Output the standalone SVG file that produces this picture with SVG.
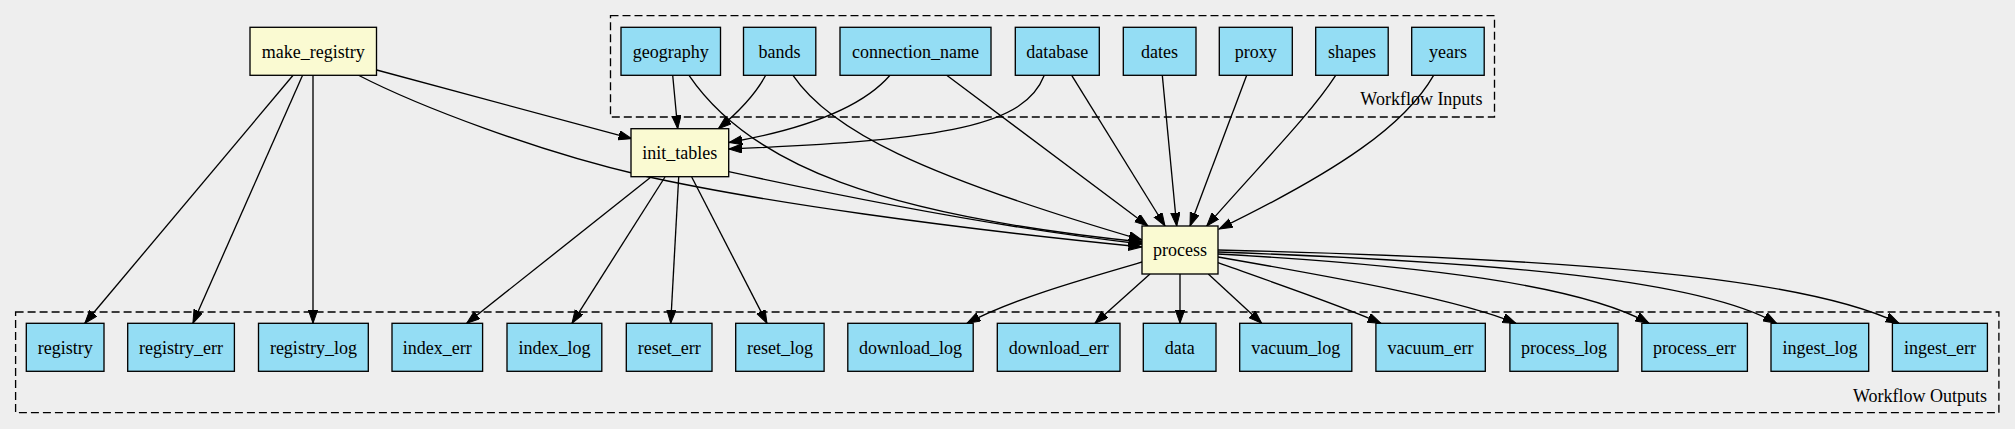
<svg xmlns="http://www.w3.org/2000/svg" width="2015" height="429" viewBox="0 0 2015 429">
<defs>
<marker id="arr" markerWidth="14" markerHeight="10" refX="13.3" refY="4.67" orient="auto" markerUnits="userSpaceOnUse">
<path d="M0,0 L13.3,4.67 L0,9.33 Z" fill="#000" stroke="#000" stroke-width="1"/>
</marker>
<style>
.bg{fill:#eeeeee}
.cl{fill:none;stroke:#000;stroke-width:1.33;stroke-dasharray:8,4}
.io rect{fill:#94ddf4;stroke:#000;stroke-width:1.33}
.st rect{fill:#fafad2;stroke:#000;stroke-width:1.33}
text{font-family:'Liberation Serif','Tinos','Times New Roman',Times,'DejaVu Serif',serif;font-size:18px;fill:#000}
.n text{text-anchor:middle}
.lab{text-anchor:end}
#edges path{fill:none;stroke:#000;stroke-width:1.33;marker-end:url(#arr)}
</style>
</defs>
<rect class="bg" x="0" y="0" width="2015" height="429"/>
<g id="cluster_inputs">
<rect class="cl" x="610.5" y="15.7" width="884" height="101.3"/>
<text class="lab" x="1482.4" y="105">Workflow Inputs</text>
</g>
<g id="cluster_outputs">
<rect class="cl" x="15.6" y="312" width="1983.3" height="100.7"/>
<text class="lab" x="1987" y="401.5">Workflow Outputs</text>
</g>
<g id="edges">
<path d="M376.7,70 L631.7,138.7"/>
<path d="M358,75 C420,107 540,152 640,175 C760,202 950,228 1142,247"/>
<path d="M293.3,75 L84.8,323.3"/>
<path d="M302.7,75 L192.9,323.3"/>
<path d="M313,75 L313,323.3"/>
<path d="M651,177 L466.7,323.3"/>
<path d="M665,177 L572,323.3"/>
<path d="M678.7,177 L670.7,323.3"/>
<path d="M691.7,177 L767,323.3"/>
<path d="M728.7,171.7 C850,198 1000,228 1142,244"/>
<path d="M672.7,75.3 L677.7,128.7"/>
<path d="M689,75.3 C750,165 880,215 1142,242"/>
<path d="M765.7,75.3 C755,95 735,115 718.3,128.7"/>
<path d="M793,75.3 C830,130 920,175 1142,240"/>
<path d="M890,75.3 C860,110 800,130 729,142.5"/>
<path d="M946.7,75.3 L1148,226"/>
<path d="M1044.3,75.3 C1025,125 950,140 729,149"/>
<path d="M1071.7,75.3 L1165,226"/>
<path d="M1162.3,75.3 L1176.7,226"/>
<path d="M1246.7,75.3 L1190,226"/>
<path d="M1335.7,75.3 C1310,115 1260,165 1206.7,226"/>
<path d="M1433.6,75.3 C1405,125 1340,170 1219,229"/>
<path d="M1142,262 C1080,280 1010,300 967,323.3"/>
<path d="M1150,274 L1095,323.3"/>
<path d="M1180,274 L1180,323.3"/>
<path d="M1208.3,274 L1261.7,323.3"/>
<path d="M1218,262.7 C1280,285 1340,305 1381,323.3"/>
<path d="M1218,257 C1350,280 1460,300 1516,323.3"/>
<path d="M1218,254 C1420,265 1580,285 1649,323.3"/>
<path d="M1218,252 C1500,262 1700,280 1776.5,323.3"/>
<path d="M1218,250 C1550,258 1800,275 1899,323.3"/>
</g>
<g id="make_registry" class="n st"><rect x="250" y="27.3" width="126.5" height="48"/><text x="313.2" y="57.5">make_registry</text></g>
<g id="init_tables" class="n st"><rect x="631" y="128.7" width="97.7" height="48"/><text x="679.8" y="159">init_tables</text></g>
<g id="process" class="n st"><rect x="1142" y="226" width="76" height="48"/><text x="1180" y="256.2">process</text></g>
<g id="geography" class="n io"><rect x="621" y="27.3" width="99.5" height="48"/><text x="670.7" y="57.5">geography</text></g>
<g id="bands" class="n io"><rect x="743.5" y="27.3" width="72.3" height="48"/><text x="779.6" y="57.5">bands</text></g>
<g id="connection_name" class="n io"><rect x="840" y="27.3" width="151" height="48"/><text x="915.5" y="57.5">connection_name</text></g>
<g id="database" class="n io"><rect x="1015.3" y="27.3" width="84" height="48"/><text x="1057.3" y="57.5">database</text></g>
<g id="dates" class="n io"><rect x="1123.3" y="27.3" width="72.7" height="48"/><text x="1159.6" y="57.5">dates</text></g>
<g id="proxy" class="n io"><rect x="1219.3" y="27.3" width="73" height="48"/><text x="1255.8" y="57.5">proxy</text></g>
<g id="shapes" class="n io"><rect x="1315.7" y="27.3" width="72.5" height="48"/><text x="1352" y="57.5">shapes</text></g>
<g id="years" class="n io"><rect x="1411.7" y="27.3" width="72.5" height="48"/><text x="1448" y="57.5">years</text></g>
<g id="registry" class="n io"><rect x="26.3" y="323.3" width="77.7" height="48"/><text x="65.2" y="353.5">registry</text></g>
<g id="registry_err" class="n io"><rect x="127.7" y="323.3" width="106.7" height="48"/><text x="181" y="353.5">registry_err</text></g>
<g id="registry_log" class="n io"><rect x="258.5" y="323.3" width="109.8" height="48"/><text x="313.4" y="353.5">registry_log</text></g>
<g id="index_err" class="n io"><rect x="392" y="323.3" width="90.6" height="48"/><text x="437.3" y="353.5">index_err</text></g>
<g id="index_log" class="n io"><rect x="507" y="323.3" width="94.8" height="48"/><text x="554.4" y="353.5">index_log</text></g>
<g id="reset_err" class="n io"><rect x="626.3" y="323.3" width="85.7" height="48"/><text x="669.2" y="353.5">reset_err</text></g>
<g id="reset_log" class="n io"><rect x="735.7" y="323.3" width="88.4" height="48"/><text x="779.9" y="353.5">reset_log</text></g>
<g id="download_log" class="n io"><rect x="847.8" y="323.3" width="125.4" height="48"/><text x="910.5" y="353.5">download_log</text></g>
<g id="download_err" class="n io"><rect x="997.3" y="323.3" width="122.7" height="48"/><text x="1058.7" y="353.5">download_err</text></g>
<g id="data" class="n io"><rect x="1143.3" y="323.3" width="72.7" height="48"/><text x="1179.7" y="353.5">data</text></g>
<g id="vacuum_log" class="n io"><rect x="1239.7" y="323.3" width="112.1" height="48"/><text x="1295.8" y="353.5">vacuum_log</text></g>
<g id="vacuum_err" class="n io"><rect x="1375.9" y="323.3" width="109.4" height="48"/><text x="1430.6" y="353.5">vacuum_err</text></g>
<g id="process_log" class="n io"><rect x="1509.9" y="323.3" width="108.1" height="48"/><text x="1564" y="353.5">process_log</text></g>
<g id="process_err" class="n io"><rect x="1641.8" y="323.3" width="105.6" height="48"/><text x="1694.6" y="353.5">process_err</text></g>
<g id="ingest_log" class="n io"><rect x="1771" y="323.3" width="97.7" height="48"/><text x="1819.9" y="353.5">ingest_log</text></g>
<g id="ingest_err" class="n io"><rect x="1892.4" y="323.3" width="95" height="48"/><text x="1939.9" y="353.5">ingest_err</text></g>
</svg>
